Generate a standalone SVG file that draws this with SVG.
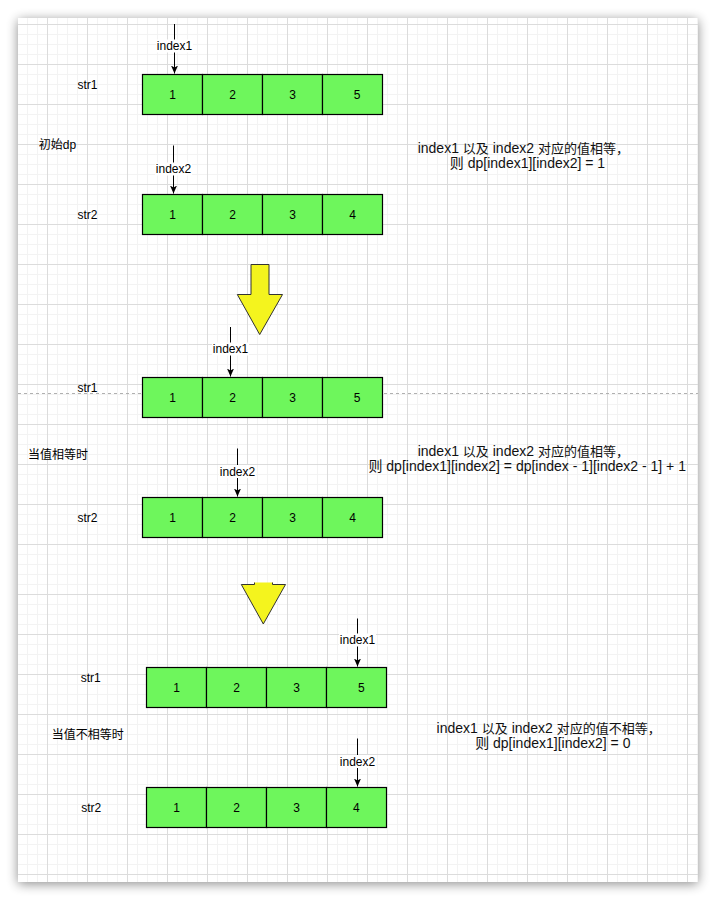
<svg xmlns="http://www.w3.org/2000/svg" width="716" height="900" viewBox="0 0 716 900">
<style>
text{font-family:"Liberation Sans","Noto Sans CJK SC",sans-serif;fill:#000;}
.t12{font-size:12px;}
.t14{font-size:14px;fill:#111;}
.cj{font-size:13px;}
.c{text-anchor:middle;}
.cell{fill:#6ef65c;stroke:#000;stroke-width:1.2;}
.ptr{stroke:#000;stroke-width:1;fill:none;marker-end:url(#arr);}
.lblbg{fill:#fff;}
.yel{fill:#f4f41e;stroke:#333;stroke-width:1;}
</style>
<defs>
<filter id="sh" x="-10%" y="-10%" width="120%" height="120%">
<feGaussianBlur stdDeviation="6"/>
</filter>
<pattern id="minor" patternUnits="userSpaceOnUse" x="7" y="4" width="10" height="10">
<path d="M0 0.5H10M0.5 0V10" stroke="#f3f3f3" stroke-width="1" fill="none"/>
</pattern>
<marker id="arr" markerUnits="userSpaceOnUse" markerWidth="9" markerHeight="8" refX="8" refY="3.5" orient="auto">
<path d="M0 0L8 3.5L0 7L2 3.5z" fill="#000"/>
</marker>
<clipPath id="cut3"><rect x="200" y="582.5" width="120" height="60"/></clipPath>
</defs>

<rect x="0" y="0" width="716" height="900" fill="#fff"/>
<g id="page">
<rect x="18" y="20" width="680" height="864" fill="#000" opacity="0.45" filter="url(#sh)"/>
<rect x="18" y="18" width="680" height="864" fill="#fff"/>
<rect x="18" y="18" width="680" height="864" fill="url(#minor)"/>
<path stroke="#dcdcdc" stroke-width="1" fill="none" d="M47.5 18V882M87.5 18V882M127.5 18V882M167.5 18V882M207.5 18V882M247.5 18V882M287.5 18V882M327.5 18V882M367.5 18V882M407.5 18V882M447.5 18V882M487.5 18V882M527.5 18V882M567.5 18V882M607.5 18V882M647.5 18V882M687.5 18V882M18 24.5H698M18 64.5H698M18 104.5H698M18 144.5H698M18 184.5H698M18 224.5H698M18 264.5H698M18 304.5H698M18 344.5H698M18 384.5H698M18 424.5H698M18 464.5H698M18 504.5H698M18 544.5H698M18 594.5H698M18 634.5H698M18 674.5H698M18 714.5H698M18 754.5H698M18 794.5H698M18 834.5H698M18 874.5H698"/>
<line x1="18" y1="393.5" x2="698" y2="393.5" stroke="#b0b0b0" stroke-width="1" stroke-dasharray="3 3"/>
</g>

<g id="yellow-arrow-1">
<polygon class="yel" points="251,264.5 269,264.5 269,294.5 282.5,294.5 259.7,334.5 237.3,294.5 251,294.5"/>
</g>
<g id="yellow-arrow-2">
<polygon class="yel" clip-path="url(#cut3)" points="254.5,560 272.5,560 272.5,584.5 285.5,584.5 263.3,624 241.3,584.5 254.5,584.5"/>
</g>

<!-- Section 1 -->
<g id="s1-str1-label"><text class="t12 c" x="87.5" y="89.3">str1</text></g>
<g id="s1-str1">
<rect class="cell" x="142.5" y="74.5" width="60" height="40"/>
<rect class="cell" x="202.5" y="74.5" width="60" height="40"/>
<rect class="cell" x="262.5" y="74.5" width="60" height="40"/>
<rect class="cell" x="322.5" y="74.5" width="60" height="40"/>
<text class="t12 c" x="172.5" y="98.8">1</text>
<text class="t12 c" x="232.5" y="98.8">2</text>
<text class="t12 c" x="292.5" y="98.8">3</text>
<text class="t12 c" x="357" y="98.8">5</text>
</g>
<g id="s1-title"><text class="t12 c" x="57.5" y="149.3">初始dp</text></g>
<g id="s1-str2-label"><text class="t12 c" x="87.5" y="219.3">str2</text></g>
<g id="s1-str2">
<rect class="cell" x="142.5" y="194.5" width="60" height="40"/>
<rect class="cell" x="202.5" y="194.5" width="60" height="40"/>
<rect class="cell" x="262.5" y="194.5" width="60" height="40"/>
<rect class="cell" x="322.5" y="194.5" width="60" height="40"/>
<text class="t12 c" x="172.5" y="218.8">1</text>
<text class="t12 c" x="232.5" y="218.8">2</text>
<text class="t12 c" x="292.5" y="218.8">3</text>
<text class="t12 c" x="352.5" y="218.8">4</text>
</g>
<g id="s1-note">
<text class="t14 c" x="523.3" y="152.6">index1 <tspan class="cj">以及</tspan> index2 <tspan class="cj">对应的值相等，</tspan></text>
<text class="t14 c" x="527.5" y="168">则 dp[index1][index2] = 1</text>
</g>

<!-- Section 2 -->
<g id="s2-str1-label"><text class="t12 c" x="87.5" y="391.8">str1</text></g>
<g id="s2-str1">
<rect class="cell" x="142.5" y="377.5" width="60" height="40"/>
<rect class="cell" x="202.5" y="377.5" width="60" height="40"/>
<rect class="cell" x="262.5" y="377.5" width="60" height="40"/>
<rect class="cell" x="322.5" y="377.5" width="60" height="40"/>
<text class="t12 c" x="172.5" y="401.8">1</text>
<text class="t12 c" x="232.5" y="401.8">2</text>
<text class="t12 c" x="292.5" y="401.8">3</text>
<text class="t12 c" x="357" y="401.8">5</text>
</g>
<g id="s2-title"><text class="t12 c" x="58" y="459.3">当值相等时</text></g>
<g id="s2-str2-label"><text class="t12 c" x="87.5" y="522">str2</text></g>
<g id="s2-str2">
<rect class="cell" x="142.5" y="497.5" width="60" height="40"/>
<rect class="cell" x="202.5" y="497.5" width="60" height="40"/>
<rect class="cell" x="262.5" y="497.5" width="60" height="40"/>
<rect class="cell" x="322.5" y="497.5" width="60" height="40"/>
<text class="t12 c" x="172.5" y="521.8">1</text>
<text class="t12 c" x="232.5" y="521.8">2</text>
<text class="t12 c" x="292.5" y="521.8">3</text>
<text class="t12 c" x="352.5" y="521.8">4</text>
</g>
<g id="s2-note">
<text class="t14 c" x="523.3" y="455.6">index1 <tspan class="cj">以及</tspan> index2 <tspan class="cj">对应的值相等，</tspan></text>
<text class="t14 c" x="527.2" y="471">则 dp[index1][index2] = dp[index - 1][index2 - 1] + 1</text>
</g>

<!-- Section 3 -->
<g id="s3-str1-label"><text class="t12 c" x="90.7" y="682">str1</text></g>
<g id="s3-str1">
<rect class="cell" x="146.5" y="667.5" width="60" height="40"/>
<rect class="cell" x="206.5" y="667.5" width="60" height="40"/>
<rect class="cell" x="266.5" y="667.5" width="60" height="40"/>
<rect class="cell" x="326.5" y="667.5" width="60" height="40"/>
<text class="t12 c" x="176.5" y="692">1</text>
<text class="t12 c" x="236.5" y="692">2</text>
<text class="t12 c" x="296.5" y="692">3</text>
<text class="t12 c" x="361.3" y="692">5</text>
</g>
<g id="s3-title"><text class="t12 c" x="87.8" y="739.3">当值不相等时</text></g>
<g id="s3-str2-label"><text class="t12 c" x="91.3" y="812">str2</text></g>
<g id="s3-str2">
<rect class="cell" x="146.5" y="787.5" width="60" height="40"/>
<rect class="cell" x="206.5" y="787.5" width="60" height="40"/>
<rect class="cell" x="266.5" y="787.5" width="60" height="40"/>
<rect class="cell" x="326.5" y="787.5" width="60" height="40"/>
<text class="t12 c" x="176.5" y="812">1</text>
<text class="t12 c" x="236.5" y="812">2</text>
<text class="t12 c" x="296.5" y="812">3</text>
<text class="t12 c" x="356.3" y="812">4</text>
</g>
<g id="s3-note">
<text class="t14 c" x="548.7" y="732.6">index1 <tspan class="cj">以及</tspan> index2 <tspan class="cj">对应的值不相等，</tspan></text>
<text class="t14 c" x="552.8" y="748.2">则 dp[index1][index2] = 0</text>
</g>

<g id="connectors">
<line class="ptr" x1="174.5" y1="24" x2="174.5" y2="73.5"/>
<line class="ptr" x1="173.5" y1="145.5" x2="173.5" y2="193.5"/>
<line class="ptr" x1="230.5" y1="327" x2="230.5" y2="376.5"/>
<line class="ptr" x1="237.5" y1="448.5" x2="237.5" y2="496.5"/>
<line class="ptr" x1="357.5" y1="618.5" x2="357.5" y2="666.5"/>
<line class="ptr" x1="357.5" y1="738.5" x2="357.5" y2="786.5"/>
<rect class="lblbg" x="156" y="39.5" width="37" height="13"/>
<text class="t12 c" x="174.5" y="50.3">index1</text>
<rect class="lblbg" x="155" y="162.5" width="37" height="13"/>
<text class="t12 c" x="173.5" y="173.3">index2</text>
<rect class="lblbg" x="212" y="342.5" width="37" height="13"/>
<text class="t12 c" x="230.5" y="353.3">index1</text>
<rect class="lblbg" x="219" y="465" width="37" height="13"/>
<text class="t12 c" x="237.5" y="476">index2</text>
<rect class="lblbg" x="339" y="633.5" width="37" height="13"/>
<text class="t12 c" x="357.5" y="644.3">index1</text>
<rect class="lblbg" x="339" y="755" width="37" height="13"/>
<text class="t12 c" x="357.5" y="766">index2</text>
</g>
</svg>
